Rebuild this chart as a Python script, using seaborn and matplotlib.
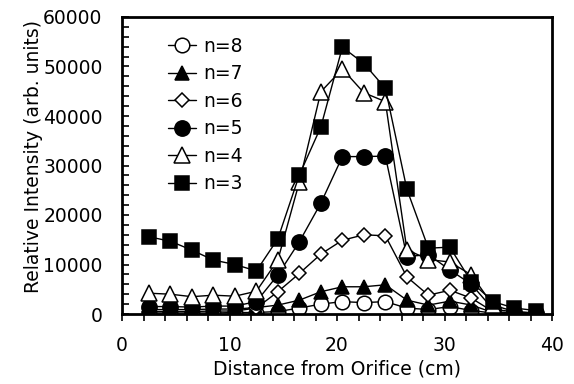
import matplotlib
matplotlib.use("Agg")
import matplotlib.pyplot as plt
import seaborn as sns
import pandas as pd
from matplotlib.ticker import MultipleLocator

distance = [2.5, 4.5, 6.5, 8.5, 10.5, 12.5, 14.5, 16.5, 18.5, 20.5,
            22.5, 24.5, 26.5, 28.5, 30.5, 32.5, 34.5, 36.5, 38.5]
n3 = [15600, 14700, 12900, 10900, 10000, 8700, 15200, 28100, 37800, 53900,
      50600, 45600, 25200, 13300, 13500, 6500, 2500, 1200, 700]
n4 = [4200, 4000, 3500, 3800, 3600, 4600, 10900, 26700, 44900, 49500,
      44700, 42900, 13000, 11000, 10500, 7900, 1800, 500, 200]
n5 = [1500, 1500, 1400, 1600, 1600, 2500, 7900, 14600, 22400, 31800,
      31800, 31900, 11600, 12000, 8900, 6000, 1000, 400, 200]
n6 = [500, 500, 500, 600, 600, 1200, 4500, 8200, 12100, 14900,
      16000, 15800, 7500, 3800, 4800, 3200, 500, 200, 100]
n7 = [900, 900, 900, 1000, 1000, 1300, 1800, 2800, 4500, 5500,
      5500, 5900, 2800, 1800, 2600, 1800, 300, 100, 50]
n8 = [200, 200, 200, 200, 300, 300, 500, 1200, 2000, 2500,
      2300, 2500, 1200, 900, 1500, 700, 200, 100, 50]

labels = ["n=8", "n=7", "n=6", "n=5", "n=4", "n=3"]
series = [n8, n7, n6, n5, n4, n3]
styles = [("o", "white", 10.5), ("^", "black", 10.5), ("D", "white", 7.5),
          ("o", "black", 11), ("^", "white", 11), ("s", "black", 10.5)]

sns.set_style("white")
plt.rcParams['font.family'] = ['DejaVu Sans']
plt.rcParams['text.color'] = 'black'
plt.rcParams['axes.labelcolor'] = 'black'
plt.rcParams['xtick.color'] = 'black'
plt.rcParams['ytick.color'] = 'black'

fig = plt.figure(figsize=(5.74, 3.84), dpi=100)
ax = fig.add_axes([122/574, 1-314/384, (552-122)/574, (314-17)/384])

for lab, vals, (mk, fc, ms) in zip(labels, series, styles):
    df = pd.DataFrame({"x": distance, "y": vals})
    sns.lineplot(data=df, x="x", y="y", ax=ax, color="black", linewidth=1.0,
                 marker=mk, markerfacecolor=fc, markeredgecolor="black",
                 markeredgewidth=1.1, markersize=ms, label=lab)

ax.set_xlim(0, 40)
ax.set_ylim(0, 60000)
ax.xaxis.set_major_locator(MultipleLocator(10))
ax.xaxis.set_minor_locator(MultipleLocator(2))
ax.yaxis.set_major_locator(MultipleLocator(10000))
ax.yaxis.set_minor_locator(MultipleLocator(2000))
ax.tick_params(axis="x", which="both", direction="out", length=5, width=1.2,
               labelsize=13.5, pad=11, bottom=True, colors="black")
ax.tick_params(axis="y", which="both", direction="in", length=5, width=1.2,
               labelsize=13.5, pad=14, left=True, colors="black")
for s in ax.spines.values():
    s.set_linewidth(2)
    s.set_color("black")

ax.set_xlabel("Distance from Orifice (cm)", fontsize=13.5, labelpad=3, color="black")
ax.set_ylabel("Relative Intensity (arb. units)", fontsize=13.5, color="black")
ax.yaxis.set_label_coords(-0.183, 0.53)

leg = ax.legend(loc="upper left", bbox_to_anchor=(0.09, 0.958), frameon=False,
                fontsize=13.5, handlelength=1.5, handletextpad=0.35,
                labelspacing=0.45, borderaxespad=0)
for t in leg.get_texts():
    t.set_color("black")

fig.savefig("out.png", dpi=100)
